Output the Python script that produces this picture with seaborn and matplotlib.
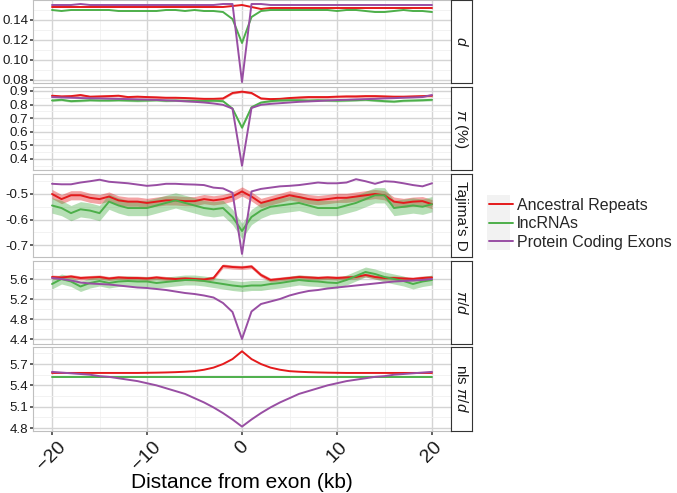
import numpy as np
import pandas as pd
import matplotlib
matplotlib.use("Agg")
import matplotlib.pyplot as plt
from matplotlib.lines import Line2D
from matplotlib.patches import Rectangle
import seaborn as sns

# ---------------- data ----------------
x_kb = list(range(-20, 21))
groups = ["Ancestral Repeats", "lncRNAs", "Protein Coding Exons"]
colors = ["#E41A1C", "#4DAF4A", "#984EA3"]

# panel 1: d
red_d = [0.153]*10 + [0.153]*9 + [0.154] + [0.155] + \
        [0.153, 0.151, 0.152, 0.152, 0.152, 0.152, 0.152, 0.152, 0.152, 0.152] + [0.152]*10
green_d = [0.150, 0.149, 0.150, 0.150, 0.150, 0.150, 0.150, 0.149, 0.149, 0.149,
           0.149, 0.149, 0.150, 0.150, 0.149, 0.150, 0.149, 0.149, 0.148, 0.141,
           0.117,
           0.143, 0.149, 0.150, 0.150, 0.150, 0.150, 0.150, 0.150, 0.150, 0.149,
           0.150, 0.150, 0.149, 0.148, 0.148, 0.149, 0.150, 0.149, 0.149, 0.148]
purple_d = [0.155, 0.155, 0.155, 0.156, 0.155, 0.155, 0.155, 0.155, 0.155, 0.155,
            0.155, 0.155, 0.155, 0.155, 0.155, 0.155, 0.155, 0.155, 0.156, 0.156,
            0.078,
            0.156, 0.156, 0.155, 0.155, 0.155, 0.155, 0.155, 0.155, 0.155, 0.155,
            0.155, 0.155, 0.155, 0.155, 0.155, 0.155, 0.155, 0.155, 0.155, 0.155]

# panel 2: pi (%)
red_pi = [0.865, 0.860, 0.862, 0.870, 0.858, 0.860, 0.862, 0.865, 0.855, 0.858,
          0.855, 0.853, 0.850, 0.850, 0.848, 0.845, 0.842, 0.842, 0.845, 0.885,
          0.895,
          0.885, 0.845, 0.840, 0.842, 0.848, 0.852, 0.855, 0.855, 0.855, 0.858,
          0.860, 0.860, 0.862, 0.862, 0.860, 0.858, 0.858, 0.860, 0.862, 0.865]
green_pi = [0.830, 0.835, 0.825, 0.828, 0.832, 0.830, 0.830, 0.832, 0.830, 0.828,
            0.830, 0.832, 0.828, 0.830, 0.828, 0.826, 0.826, 0.828, 0.825, 0.770,
            0.630,
            0.780, 0.815, 0.825, 0.830, 0.832, 0.832, 0.830, 0.832, 0.830, 0.828,
            0.830, 0.832, 0.835, 0.830, 0.825, 0.822, 0.828, 0.830, 0.832, 0.835]
purple_pi = [0.855, 0.852, 0.850, 0.848, 0.846, 0.845, 0.843, 0.842, 0.840, 0.838,
             0.836, 0.834, 0.831, 0.828, 0.824, 0.820, 0.815, 0.808, 0.798, 0.770,
             0.350,
             0.775, 0.798, 0.805, 0.810, 0.815, 0.820, 0.823, 0.826, 0.830, 0.833,
             0.835, 0.838, 0.840, 0.842, 0.845, 0.847, 0.850, 0.852, 0.855, 0.870]
red_pi_err, green_pi_err = 0.008, 0.008

# panel 3: Tajima's D
red_td = [-0.500, -0.520, -0.505, -0.505, -0.515, -0.520, -0.510, -0.525, -0.530, -0.530,
          -0.535, -0.530, -0.525, -0.525, -0.528, -0.528, -0.520, -0.525, -0.520, -0.510,
          -0.490,
          -0.510, -0.535, -0.525, -0.515, -0.505, -0.512, -0.520, -0.524, -0.520, -0.515,
          -0.515, -0.510, -0.505, -0.500, -0.505, -0.530, -0.535, -0.530, -0.528, -0.540]
green_td = [-0.545, -0.555, -0.575, -0.560, -0.565, -0.575, -0.530, -0.545, -0.555, -0.555,
            -0.555, -0.545, -0.535, -0.525, -0.535, -0.545, -0.555, -0.560, -0.555, -0.590,
            -0.645,
            -0.590, -0.565, -0.550, -0.545, -0.540, -0.535, -0.545, -0.555, -0.555, -0.555,
            -0.545, -0.535, -0.520, -0.505, -0.505, -0.555, -0.550, -0.545, -0.550, -0.540]
purple_td = [-0.460, -0.462, -0.462, -0.455, -0.450, -0.444, -0.452, -0.455, -0.458, -0.463,
             -0.468, -0.465, -0.460, -0.460, -0.462, -0.463, -0.465, -0.475, -0.478, -0.495,
             -0.735,
             -0.490, -0.480, -0.475, -0.470, -0.468, -0.465, -0.460, -0.455, -0.458, -0.458,
             -0.455, -0.442, -0.450, -0.460, -0.450, -0.452, -0.458, -0.465, -0.470, -0.458]
red_td_err, green_td_err = 0.018, 0.030

# panel 4: pi/d
red_pd = [5.64, 5.63, 5.65, 5.62, 5.63, 5.64, 5.61, 5.63, 5.62, 5.62,
          5.61, 5.63, 5.61, 5.60, 5.61, 5.60, 5.59, 5.62, 5.86, 5.84,
          5.83,
          5.85, 5.68, 5.58, 5.60, 5.62, 5.64, 5.63, 5.62, 5.63, 5.62,
          5.63, 5.64, 5.68, 5.64, 5.62, 5.62, 5.61, 5.60, 5.62, 5.63]
green_pd = [5.50, 5.60, 5.55, 5.45, 5.52, 5.56, 5.52, 5.55, 5.56, 5.55,
            5.55, 5.52, 5.54, 5.56, 5.58, 5.58, 5.56, 5.53, 5.50, 5.47,
            5.45,
            5.47, 5.47, 5.50, 5.52, 5.55, 5.58, 5.56, 5.55, 5.53, 5.52,
            5.58, 5.66, 5.74, 5.70, 5.64, 5.60, 5.56, 5.50, 5.55, 5.58]
purple_pd = [5.62, 5.60, 5.57, 5.53, 5.51, 5.50, 5.49, 5.47, 5.45, 5.43,
             5.42, 5.40, 5.38, 5.35, 5.32, 5.30, 5.27, 5.23, 5.12, 4.94,
             4.40,
             4.95, 5.10, 5.15, 5.20, 5.27, 5.32, 5.36, 5.38, 5.41, 5.43,
             5.45, 5.47, 5.49, 5.51, 5.53, 5.55, 5.56, 5.57, 5.58, 5.60]
red_pd_err, green_pd_err = 0.04, 0.10

# panel 5: nls pi/d
red_nls = [5.575]*10 + [5.577, 5.579, 5.582, 5.586, 5.592, 5.60, 5.62, 5.65, 5.70, 5.77] + [5.88] + \
          [5.77, 5.70, 5.65, 5.62, 5.60, 5.592, 5.586, 5.582, 5.579, 5.577] + [5.575]*10
green_nls = [5.52]*41
purple_nls = [5.59, 5.58, 5.57, 5.56, 5.55, 5.53, 5.52, 5.50, 5.48, 5.46,
              5.43, 5.40, 5.36, 5.32, 5.28, 5.22, 5.16, 5.09, 5.01, 4.92,
              4.82,
              4.92, 5.01, 5.09, 5.16, 5.22, 5.28, 5.32, 5.36, 5.40, 5.43,
              5.46, 5.48, 5.50, 5.52, 5.53, 5.55, 5.56, 5.57, 5.58, 5.59]

strip_labels = [r"$d$", r"$\pi$ (%)", "Tajima's D", r"$\pi/d$", r"nls $\pi/d$"]
x_label = "Distance from exon (kb)"

# ---------------- style ----------------
sns.set_theme(style="white")
plt.rcParams["font.family"] = ["Liberation Sans", "DejaVu Sans"]
plt.rcParams["mathtext.fontset"] = "custom"
plt.rcParams["mathtext.rm"] = "Liberation Sans"
plt.rcParams["mathtext.it"] = "Liberation Sans:italic"

W, H = 677, 493
fig = plt.figure(figsize=(W/100, H/100), dpi=100)
fig.patch.set_facecolor("white")

panels = [
    dict(series=[red_d, green_d, purple_d], err=[None, None], ylim=(0.077, 0.160),
         major=[0.08, 0.10, 0.12, 0.14], minor=[0.09, 0.11, 0.13, 0.15], fmt="{:.2f}", top=0, bot=83),
    dict(series=[red_pi, green_pi, purple_pi], err=[red_pi_err, green_pi_err], ylim=(0.319, 0.929),
         major=[0.4, 0.5, 0.6, 0.7, 0.8, 0.9], minor=[0.35, 0.45, 0.55, 0.65, 0.75, 0.85], fmt="{:.1f}", top=87, bot=170),
    dict(series=[red_td, green_td, purple_td], err=[red_td_err, green_td_err], ylim=(-0.747, -0.4216),
         major=[-0.7, -0.6, -0.5], minor=[-0.65, -0.55, -0.45], fmt="{:.1f}", top=174, bot=257),
    dict(series=[red_pd, green_pd, purple_pd], err=[red_pd_err, green_pd_err], ylim=(4.30, 5.96),
         major=[4.4, 4.8, 5.2, 5.6], minor=[4.6, 5.0, 5.4, 5.8], fmt="{:.1f}", top=261, bot=344),
    dict(series=[red_nls, green_nls, purple_nls], err=[None, None], ylim=(4.758, 5.94),
         major=[4.8, 5.1, 5.4, 5.7], minor=[4.95, 5.25, 5.55, 5.85], fmt="{:.1f}", top=347, bot=431),
]

L, R = 33, 451
SR = 472
for i, p in enumerate(panels):
    ax = fig.add_axes([L/W, 1 - p["bot"]/H, (R-L)/W, (p["bot"]-p["top"])/H])
    ax.set_facecolor("white")
    rows = []
    for g, vals in zip(groups, p["series"]):
        for xv, yv in zip(x_kb, vals):
            rows.append((xv, yv, g))
    df = pd.DataFrame(rows, columns=["x", "value", "type"])
    # ribbons
    for g, col, e in zip(groups[:2], colors[:2], p["err"]):
        if e is None:
            continue
        sub = df[df["type"] == g]
        ax.fill_between(sub["x"], sub["value"] - e, sub["value"] + e,
                        color=col, alpha=0.4, lw=0, zorder=2)
    sns.lineplot(data=df, x="x", y="value", hue="type", hue_order=groups,
                 palette=colors, ax=ax, legend=False, lw=1.4, zorder=3)
    ax.set_xlim(-22, 22)
    ax.set_ylim(*p["ylim"])
    ax.set_xticks([-20, -10, 0, 10, 20])
    ax.set_xticks([-15, -5, 5, 15], minor=True)
    ax.set_yticks(p["major"])
    ax.set_yticks(p["minor"], minor=True)
    ax.set_yticklabels([p["fmt"].format(v) for v in p["major"]])
    ax.grid(True, which="major", color="#d4d4d4", lw=1.0, zorder=0)
    ax.grid(True, which="minor", color="#f0f0f0", lw=0.6, zorder=0)
    ax.set_axisbelow(True)
    for s in ax.spines.values():
        s.set_color("#bfbfbf")
        s.set_linewidth(0.8)
    ax.tick_params(axis="y", which="major", length=2.5, color="#4d4d4d",
                   labelsize=9.6, labelcolor="#1a1a1a", pad=1, left=True)
    ax.tick_params(axis="y", which="minor", length=0)
    ax.set_xlabel("")
    ax.set_ylabel("")
    if i < 4:
        ax.tick_params(axis="x", which="both", length=0, labelbottom=False)
    else:
        ax.tick_params(axis="x", which="major", length=3, color="#4d4d4d", bottom=True,
                       labelsize=14, labelcolor="#1a1a1a", pad=2)
        ax.tick_params(axis="x", which="minor", length=0)
        for lab in ax.get_xticklabels():
            lab.set_rotation(45)
            lab.set_ha("center")
            lab.set_va("top")
        ax.set_xlabel(x_label, fontsize=15, color="#000000", labelpad=0)
    # strip
    sax = fig.add_axes([R/W, 1 - p["bot"]/H, (SR-R)/W, (p["bot"]-p["top"])/H])
    sax.set_xticks([]); sax.set_yticks([])
    sax.set_facecolor("white")
    for s in sax.spines.values():
        s.set_color("#333333")
        s.set_linewidth(0.8)
    sax.text(0.5, 0.5, strip_labels[i], rotation=270, ha="center", va="center",
             fontsize=11, transform=sax.transAxes, color="#1a1a1a")

# legend
fig.patches.append(Rectangle((487/W, 1 - 250/H), 23/W, 55/H, transform=fig.transFigure,
                             facecolor="#f2f2f2", edgecolor="none", zorder=0))
handles = [Line2D([], [], color=c, lw=1.4) for c in colors]
fig.legend(handles, groups, loc="center left", bbox_to_anchor=(489/W, 1 - 224/H),
           frameon=False, fontsize=11.5, handlelength=1.5, handletextpad=0.25,
           labelspacing=0.22, borderaxespad=0, borderpad=0)

fig.savefig("out.png", dpi=100, facecolor="white")
